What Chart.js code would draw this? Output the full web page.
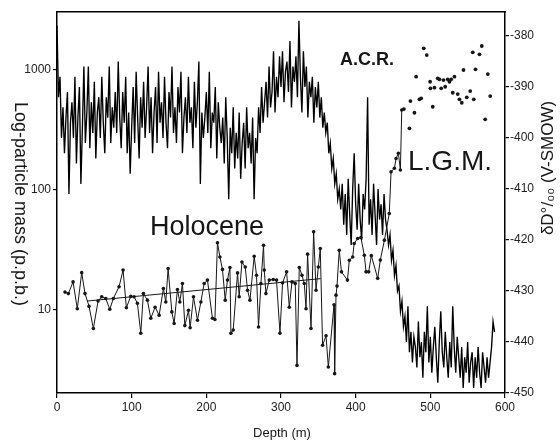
<!DOCTYPE html>
<html>
<head>
<meta charset="utf-8">
<script src="https://cdn.jsdelivr.net/npm/chart.js@4/dist/chart.umd.min.js"></script>
<style>
  body { margin: 0; background: #fff; }
  #wrap { width: 560px; height: 443px; }
</style>
</head>
<body>
<div id="wrap"><canvas id="myChart" width="560" height="443"></canvas></div>
<script>
// deuterium record, one value every 2 m starting at 0 m (right axis)
var dDStart = 0;
var dDStep = 2;
var dDValues = [
  -378, -392, -388, -400, -394, -403, -396, -391, -411, -397,
  -393, -400, -388, -405, -396, -390, -409, -398, -386, -401,
  -395, -386, -402, -393, -399, -389, -404, -395, -392, -400,
  -388, -397, -403, -392, -396, -386, -401, -394, -398, -391,
  -399, -385, -396, -402, -391, -397, -388, -403, -395, -407,
  -398, -390, -401, -387, -396, -404, -392, -398, -389, -400,
  -394, -386, -399, -392, -403, -395, -390, -401, -387, -397,
  -393, -400, -388, -397, -402, -391, -396, -386, -399, -394,
  -401, -390, -395, -387, -403, -396, -392, -399, -388, -397,
  -394, -402, -389, -398, -393, -385, -409, -395, -400, -396,
  -391, -399, -387, -402, -395, -397, -390, -404, -393, -398,
  -401, -396, -405, -392, -400, -412, -398, -403, -394, -406,
  -399, -404, -395, -408, -401, -397, -406, -394, -402, -399,
  -405, -396, -412, -400, -403, -394, -399, -390, -397, -393,
  -389, -396, -386, -394, -391, -383, -395, -388, -392, -384,
  -390, -383, -393, -387, -385, -391, -381, -394, -386, -389,
  -384, -392, -377, -388, -395, -383, -390, -386, -396, -389,
  -392, -388, -397, -390, -394, -389, -396, -392, -398, -395,
  -399, -397, -403, -401, -406, -404, -409, -407, -412, -410,
  -414, -409, -417, -411, -419, -408, -415, -421, -410, -403,
  -413, -418, -409, -416, -420, -411, -414, -408, -392, -417,
  -412, -419, -409, -415, -421, -410, -416, -413, -419, -411,
  -416, -418, -421, -419, -424, -422, -427, -425, -430, -429,
  -434, -432, -437, -435, -440, -433, -442, -438, -444, -439,
  -441, -445, -436, -443, -440, -447, -438, -442, -433, -444,
  -439, -446, -441, -437, -443, -448, -440, -434, -442, -445,
  -438, -443, -447, -440, -445, -433, -441, -446, -439, -443,
  -447, -441, -449, -443, -446, -440, -448, -444, -442, -449,
  -443, -447, -441, -446, -449, -442, -445, -448, -443, -447,
  -444, -441, -436, -438
];

// dust samples joined by a line (Holocene + A.C.R.), left log axis
var dustDepth = [
  10.7, 15.2, 21.5, 27.2, 33.1, 37.5, 42.9, 48.7, 55, 59.9,
  65.3, 70.7, 75.5, 83.1, 88.5, 92.9, 98.8, 103.2, 107.7, 112.2,
  115.7, 121.1, 125.6, 131.4, 136.8, 142.5, 145.7, 148.8, 153.8, 156.9,
  161.3, 164.5, 168, 171.2, 176.1, 178.3, 182.8, 188.1, 192.7, 197.1,
  201.5, 208.2, 211.5, 214.9, 218.2, 221.6, 225.3, 228.3, 231.6, 232.9,
  236, 241.8, 244, 247.7, 252.1, 255.2, 258.4, 264.1, 267.2, 269.9,
  273.1, 276.6, 277.6, 279.8, 284.3, 289.6, 294, 298.6, 302.1, 307.5,
  311.1, 314.7, 319.1, 321.4, 324.5, 328.1, 331.2, 333.5, 335.6, 340.2,
  343.7, 346.9, 350, 352.6, 355.7, 360.3, 363.4, 371, 371.8, 373.7,
  375, 378, 381, 389, 391.5, 396, 398, 402.7, 407, 411.6,
  413.9, 417.4, 421, 429.5, 433, 438.5, 445, 447.4, 451.9, 454.1,
  457.2, 459.9, 461.7
];
var dustValues = [
  13.9, 13.5, 16.9, 10.1, 20.2, 13.5, 10.6, 6.9, 11.7, 12.7,
  12.3, 10.0, 12.3, 15.4, 21.2, 10.3, 12.8, 12.7, 11.2, 6.3,
  13.5, 11.9, 8.4, 10.4, 8.9, 14.9, 11.5, 21.9, 9.5, 7.6,
  14.6, 11.5, 16.4, 7.3, 9.8, 7.0, 12.7, 8.1, 11.5, 16.4,
  17.5, 8.4, 8.2, 35.8, 27.3, 21.5, 11.9, 17.5, 22.3, 6.3,
  6.7, 20.1, 12.7, 24.8, 22.5, 14.4, 11.9, 27.7, 19.2, 7.1,
  16.4, 34.2, 21.2, 13.5, 17.5, 17.7, 17.5, 6.3, 16.6, 20.5,
  10.4, 16.9, 16.4, 3.4, 22.3, 19.2, 16.4, 10.1, 28.8, 6.9,
  44.2, 14.4, 22.5, 32.1, 5.0, 6.0, 3.3, 10.9, 2.9, 13.1,
  15.6, 31, 20.5, 17.5, 25.6, 27.3, 35.4, 38.9, 39.7, 28.2,
  20.5, 20.5, 28, 18.1, 25.7, 37.7, 62.9, 140, 150, 181,
  200, 145, 459
];

// L.G.M. dust samples, plotted as loose dots
var lgmDepth = [
  464.6, 472, 473.3, 478.7, 481, 485.4, 487.7, 491.2, 495.2, 499.7, 500.1,
  503.2, 505.5, 509.9, 512.2, 514.5, 517.6, 519.9, 523.3, 525.6, 527.9,
  530, 532.3, 536.7, 539, 542.1, 544.4, 548.8, 553.4, 556.8, 558.2,
  560.5, 565.8, 568.9, 573.5, 577, 580.2
];
var lgmValues = [
  468, 323, 546, 436, 871, 564, 575, 1503, 1321, 791, 697,
  489, 705, 845, 829, 697, 817, 718, 829, 791, 829,
  640, 871, 624, 564, 528, 991, 586, 661, 1393, 564,
  1004, 1340, 1571, 384, 916, 601
];

// Holocene dust trend
var trendDepth = [40, 353];
var trendValues = [11.7, 18.0];

var dustTicks = [10, 100, 1000];
var dDTicks = [-450, -440, -430, -420, -410, -400, -390, -380];
var depthTicks = [0, 100, 200, 300, 400, 500, 600];

function pairs(xs, ys) {
  var out = [];
  for (var i = 0; i < xs.length; i++) out.push({ x: xs[i], y: ys[i] });
  return out;
}

var dDData = [];
for (var i = 0; i < dDValues.length; i++) {
  dDData.push({ x: dDStart + i * dDStep, y: dDValues[i] });
}

var FONT = "'Liberation Sans', Arial, Helvetica, sans-serif";
var INK = '#161616';

var textPlugin = {
  id: 'labels',
  afterDraw: function (chart) {
    var ctx = chart.ctx;
    ctx.save();
    ctx.fillStyle = INK;
    ctx.textBaseline = 'alphabetic';
    ctx.textAlign = 'left';
    ctx.font = '27px ' + FONT;
    ctx.fillText('Holocene', 150, 235);
    ctx.font = 'bold 18px ' + FONT;
    ctx.fillText('A.C.R.', 340, 65);
    ctx.font = '28px ' + FONT;
    ctx.fillText('L.G.M.', 408, 170);

    ctx.textAlign = 'center';
    ctx.textBaseline = 'middle';
    ctx.font = '13px ' + FONT;
    ctx.fillText('Depth (m)', 282, 433);

    // left title reads top to bottom
    ctx.save();
    ctx.translate(20, 204);
    ctx.rotate(Math.PI / 2);
    ctx.font = '18px ' + FONT;
    ctx.fillText('Log-particle mass (p.p.b.)', 0, 0);
    ctx.restore();

    // right title reads bottom to top
    ctx.save();
    ctx.translate(548, 168);
    ctx.rotate(-Math.PI / 2);
    ctx.font = '17px ' + FONT;
    ctx.fillText('\u03B4D\u00B0/\u2080\u2080 (V-SMOW)', 0, 0);
    ctx.restore();
    ctx.restore();
  }
};

var ctx = document.getElementById('myChart').getContext('2d');
var myChart = new Chart(ctx, {
  type: 'line',
  data: {
    datasets: [{
      label: 'dust',
      data: pairs(dustDepth, dustValues),
      yAxisID: 'y',
      borderColor: INK,
      borderWidth: 1,
      pointRadius: 1.8,
      pointBackgroundColor: INK,
      pointBorderWidth: 0,
      tension: 0
    }, {
      label: 'dust LGM',
      data: pairs(lgmDepth, lgmValues),
      yAxisID: 'y',
      showLine: false,
      pointRadius: 1.9,
      pointBackgroundColor: INK,
      pointBorderWidth: 0
    }, {
      label: 'trend',
      data: pairs(trendDepth, trendValues),
      yAxisID: 'y',
      borderColor: INK,
      borderWidth: 1,
      pointRadius: 0
    }, {
      label: 'dD',
      data: dDData,
      yAxisID: 'yR',
      borderColor: '#000',
      borderWidth: 1.35,
      pointRadius: 0,
      tension: 0
    }]
  },
  options: {
    responsive: false,
    animation: false,
    layout: { padding: 0 },
    plugins: {
      legend: { display: false },
      tooltip: { enabled: false }
    },
    scales: {
      x: {
        type: 'linear',
        position: 'bottom',
        min: 0,
        max: 600,
        afterBuildTicks: function (s) { s.ticks = depthTicks.map(function (v) { return { value: v }; }); },
        ticks: { color: '#222', font: { family: FONT, size: 12 }, padding: 2, maxRotation: 0 },
        grid: { drawOnChartArea: false, tickLength: 5, color: '#000', lineWidth: 1.2 },
        border: { color: '#000', width: 1.5 },
        afterFit: function (s) { s.height = 50; }
      },
      xTop: {
        type: 'linear',
        position: 'top',
        min: 0,
        max: 600,
        ticks: { display: false },
        grid: { drawOnChartArea: false, drawTicks: false },
        border: { color: '#000', width: 1.5 },
        afterFit: function (s) { s.height = 12; }
      },
      y: {
        type: 'logarithmic',
        position: 'left',
        min: 2,
        max: 3020,
        afterBuildTicks: function (s) { s.ticks = dustTicks.map(function (v) { return { value: v }; }); },
        ticks: {
          color: '#222',
          font: { family: FONT, size: 12 },
          padding: 2,
          callback: function (v) { return String(v); }
        },
        grid: { drawOnChartArea: false, tickLength: 4, color: '#000', lineWidth: 1.2 },
        border: { color: '#000', width: 1.5 },
        afterFit: function (s) { s.width = 57; }
      },
      yR: {
        type: 'linear',
        position: 'right',
        min: -450,
        max: -375.3,
        afterBuildTicks: function (s) { s.ticks = dDTicks.map(function (v) { return { value: v }; }); },
        ticks: { color: '#222', font: { family: FONT, size: 12 }, padding: 1 },
        grid: { drawOnChartArea: false, tickLength: 4, color: '#000', lineWidth: 1.2 },
        border: { color: '#000', width: 1.5 },
        afterFit: function (s) { s.width = 55; }
      }
    }
  },
  plugins: [textPlugin]
});
</script>
</body>
</html>
